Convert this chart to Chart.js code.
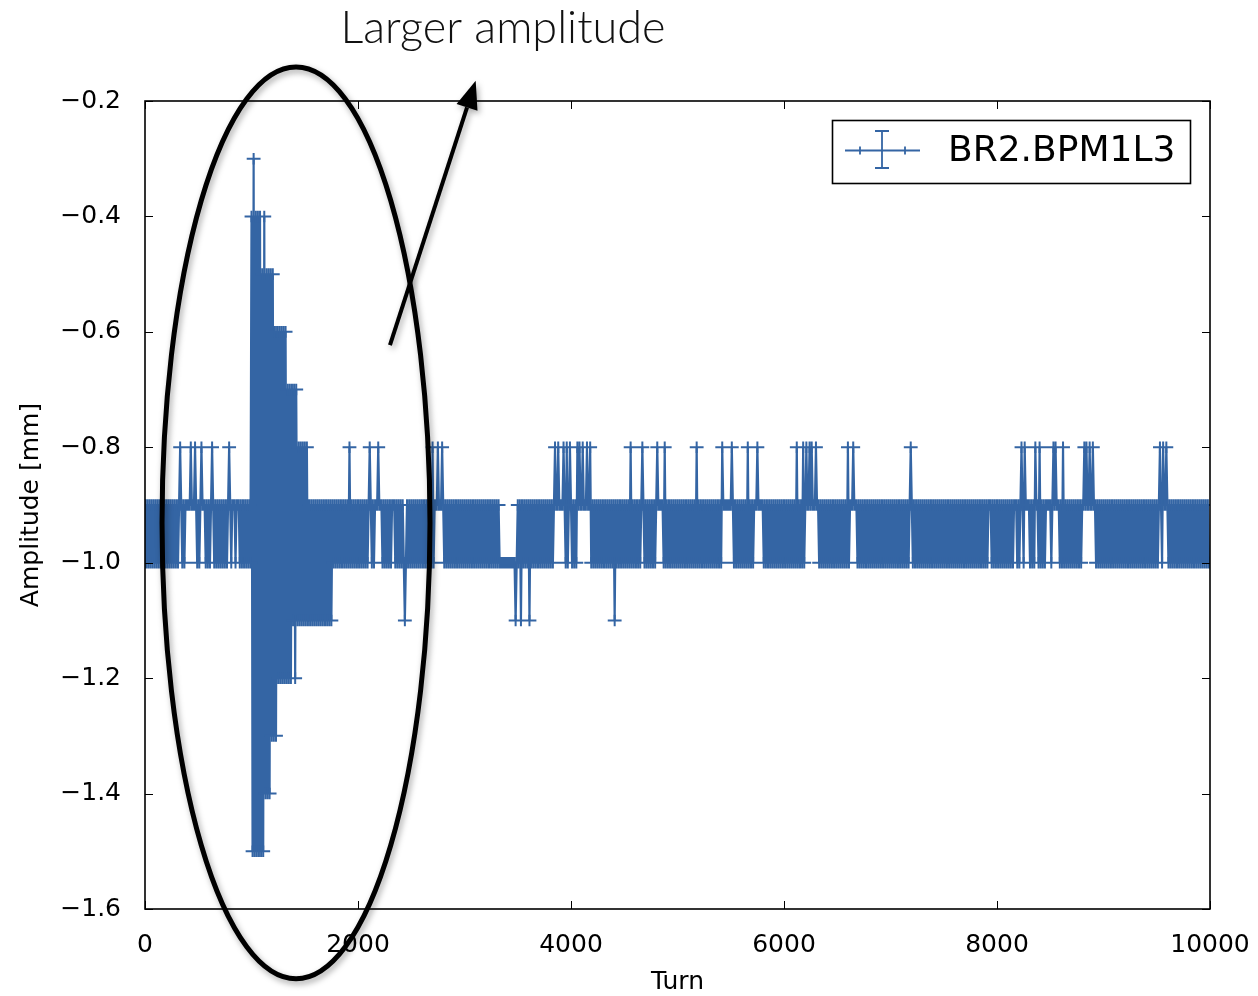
<!DOCTYPE html>
<html>
<head>
<meta charset="utf-8">
<script src="https://cdn.jsdelivr.net/npm/chart.js@4/dist/chart.umd.min.js"></script>
<style>
  html, body { margin: 0; padding: 0; background: #fff; }
  #wrap { width: 1258px; height: 996px; }
</style>
</head>
<body>
<div id="wrap"><canvas id="myChart"></canvas></div>
<script>

// BR2.BPM1L3 amplitude, one reading every 10 turns.
// one character per reading: '3'..'9' = -0.3..-0.9 mm, '0' = -1.0 mm, 'a'..'e' = -1.1..-1.5 mm
const turnStep = 10;
const levelCodes = {
  '3': -0.3, '4': -0.4, '5': -0.5, '6': -0.6, '7': -0.7, '8': -0.8, '9': -0.9,
  '0': -1.0, 'a': -1.1, 'b': -1.2, 'c': -1.3, 'd': -1.4, 'e': -1.5
};
const ampBlocks = [
  "9090909090 9090909090 9090909090 9098909099 9998999890 9098999090 9098909090 9090909098 9099909990 9090909090",
  "4e3e4e4e4e 5e4d5d5d5c 5c6c6b6b6b 6b6b7b7b7a 7b7a8a8a8a 8a8a9a9a9a 9a9a9a9a9a 9a9a9a9090 9090909090 9080909090",
  "9090909090 9890909998 9990909090 9099909090 9090a09090 9090909090 9090909090 8099989998 9090909090 9090909090",
  "9090909090 9090909090 9090909090 9090000000 00000000a0 909a909090 9a90909090 9090909090 9090989989 9998908098",
  "9090908989 9899989980 9090909090 9090909090 9a90909090 9090908090 9090909890 9090909090 9899999080 9090909090",
  "9090909090 9090909080 9090909090 9090909090 9089999999 9890909090 9090908090 9099989999 9090909090 9090909090",
  "9090909090 9080909080 9899898999 8990909090 9090909090 9090909090 8099989990 9090909090 9090909090 9090909090",
  "9090909090 9090909098 9090909090 9090909090 9090909090 9090909090 9090909090 9090909090 9090909090 9099909090",
  "9090909090 9090909990 9098908999 9090908990 8090909999 9098989990 9080909090 9090909090 9989899899 8990909090",
  "9090909090 9090909090 9090909090 9090909090 9090909090 9098908998 9090909090 9090909090 9090909090 9090909090"
];
const xErr = 65;     // turns
const yErr = 0.01;   // mm
const seriesLabel = "BR2.BPM1L3";

const xTicks = [0, 2000, 4000, 6000, 8000, 10000];
const yTicks = [-1.6, -1.4, -1.2, -1.0, -0.8, -0.6, -0.4, -0.2];

const turns = [];
const amps = [];
ampBlocks.join("").replace(/ /g, "").split("").forEach((c, i) => {
  turns.push(i * turnStep);
  amps.push(levelCodes[c]);
});
const points = turns.map((t, i) => ({ x: t, y: amps[i] }));

const blue = "#3465a4";
const font = "DejaVu Sans";

// error bars, frame with inward ticks, legend and the hand-drawn note
const overlay = {
  id: "overlay",
  afterDatasetsDraw(chart) {
    const { ctx, chartArea: a, scales: { x, y } } = chart;
    ctx.save();
    ctx.beginPath();
    ctx.rect(a.left, a.top, a.right - a.left, a.bottom - a.top);
    ctx.clip();
    ctx.strokeStyle = blue;
    ctx.lineWidth = 2;
    ctx.beginPath();
    points.forEach(p => {
      const px = x.getPixelForValue(p.x), py = y.getPixelForValue(p.y);
      ctx.moveTo(x.getPixelForValue(p.x - xErr), py);
      ctx.lineTo(x.getPixelForValue(p.x + xErr), py);
      ctx.moveTo(px, y.getPixelForValue(p.y + yErr));
      ctx.lineTo(px, y.getPixelForValue(p.y - yErr));
    });
    ctx.stroke();
    ctx.restore();
  },
  afterDraw(chart) {
    const { ctx, chartArea: a, scales: { x, y } } = chart;
    ctx.save();

    // axes frame and ticks
    ctx.strokeStyle = "#000";
    ctx.lineWidth = 1.6;
    ctx.strokeRect(a.left, a.top, a.right - a.left, a.bottom - a.top);
    ctx.lineWidth = 1;
    ctx.beginPath();
    xTicks.forEach(v => {
      const px = Math.round(x.getPixelForValue(v)) + 0.5;
      ctx.moveTo(px, a.bottom); ctx.lineTo(px, a.bottom - 8);
      ctx.moveTo(px, a.top); ctx.lineTo(px, a.top + 8);
    });
    yTicks.forEach(v => {
      const py = Math.round(y.getPixelForValue(v)) + 0.5;
      ctx.moveTo(a.left, py); ctx.lineTo(a.left + 8, py);
      ctx.moveTo(a.right, py); ctx.lineTo(a.right - 8, py);
    });
    ctx.stroke();

    // legend
    const lx = 832.5, ly = 120.5, lw = 358, lh = 63;
    ctx.fillStyle = "#fff";
    ctx.fillRect(lx, ly, lw, lh);
    ctx.strokeStyle = "#000";
    ctx.lineWidth = 1.6;
    ctx.strokeRect(lx, ly, lw, lh);
    const mx = 882, my = 150.5;
    ctx.strokeStyle = blue;
    ctx.lineWidth = 1.8;
    ctx.beginPath();
    ctx.moveTo(845, my); ctx.lineTo(920, my);
    ctx.moveTo(860, my - 4); ctx.lineTo(860, my + 4);
    ctx.moveTo(905, my - 4); ctx.lineTo(905, my + 4);
    ctx.moveTo(mx, 131); ctx.lineTo(mx, 168);
    ctx.moveTo(mx - 7, 131); ctx.lineTo(mx + 7, 131);
    ctx.moveTo(mx - 7, 168); ctx.lineTo(mx + 7, 168);
    ctx.stroke();
    ctx.fillStyle = "#000";
    ctx.font = "36px '" + font + "'";
    ctx.textAlign = "left";
    ctx.textBaseline = "middle";
    ctx.fillText(seriesLabel, 948, 152);

    // ellipse round the first turns
    const cx = x.getPixelForValue(1418), cy = y.getPixelForValue(-0.931);
    const rx = x.getPixelForValue(1418 + 1258) - cx;
    const ry = y.getPixelForValue(-0.931 - 0.79) - cy;
    ctx.save();
    ctx.shadowColor = "rgba(0,0,0,0.35)";
    ctx.shadowBlur = 6;
    ctx.shadowOffsetX = 2;
    ctx.shadowOffsetY = 3;
    ctx.strokeStyle = "#000";
    ctx.lineWidth = 5;
    ctx.beginPath();
    ctx.ellipse(cx, cy, rx, ry, 0, 0, 2 * Math.PI);
    ctx.stroke();

    // arrow
    const ax0 = x.getPixelForValue(2300), ay0 = y.getPixelForValue(-0.623);
    const ax1 = x.getPixelForValue(3105), ay1 = y.getPixelForValue(-0.165);
    const ang = Math.atan2(ay1 - ay0, ax1 - ax0);
    const headLen = 28, headW = 11;
    const bx = ax1 - headLen * Math.cos(ang), by = ay1 - headLen * Math.sin(ang);
    ctx.lineWidth = 4;
    ctx.beginPath();
    ctx.moveTo(ax0, ay0); ctx.lineTo(bx, by);
    ctx.stroke();
    ctx.fillStyle = "#000";
    ctx.beginPath();
    ctx.moveTo(ax1, ay1);
    ctx.lineTo(bx + headW * Math.sin(ang), by - headW * Math.cos(ang));
    ctx.lineTo(bx - headW * Math.sin(ang), by + headW * Math.cos(ang));
    ctx.closePath();
    ctx.fill();
    ctx.restore();

    // note
    ctx.fillStyle = "#111";
    ctx.font = "300 40px Lato";
    const w = ctx.measureText("Larger amplitude").width;
    ctx.font = "300 " + (40 * 325 / w).toFixed(1) + "px Lato";
    ctx.textAlign = "center";
    ctx.textBaseline = "middle";
    ctx.fillText("Larger amplitude", 503, 28);

    ctx.restore();
  }
};

new Chart("myChart", {
  type: "line",
  data: {
    datasets: [{
      label: seriesLabel,
      data: points,
      borderColor: blue,
      borderWidth: 2.2,
      pointRadius: 0,
      tension: 0,
      fill: false
    }]
  },
  options: {
    responsive: true,
    maintainAspectRatio: false,
    animation: false,
    events: [],
    layout: { padding: { top: 101, right: 48, left: 0, bottom: 0 } },
    plugins: { legend: { display: false }, tooltip: { enabled: false } },
    scales: {
      x: {
        type: "linear",
        min: 0,
        max: 10000,
        grid: { display: false, drawTicks: false },
        border: { display: false },
        afterBuildTicks: s => { s.ticks = xTicks.map(v => ({ value: v })); },
        afterFit: s => { s.height = 87; s.paddingLeft = 0; s.paddingRight = 0; },
        ticks: {
          padding: 21,
          color: "#000",
          font: { family: font, size: 25 },
          maxRotation: 0,
          callback: v => String(v)
        },
        title: {
          display: true,
          text: "Turn",
          color: "#000",
          font: { family: font, size: 25, lineHeight: 1.05 },
          padding: { top: 0, bottom: 0 }
        }
      },
      y: {
        type: "linear",
        min: -1.6,
        max: -0.2,
        grid: { display: false, drawTicks: false },
        border: { display: false },
        afterBuildTicks: s => { s.ticks = yTicks.map(v => ({ value: v })); },
        afterFit: s => { s.width = 145; s.paddingTop = 0; s.paddingBottom = 0; },
        ticks: {
          padding: 24,
          color: "#000",
          font: { family: font, size: 25 },
          callback: v => (v < 0 ? "\u2212" : "") + Math.abs(v).toFixed(1)
        },
        title: {
          display: true,
          text: "Amplitude [mm]",
          color: "#000",
          font: { family: font, size: 25 },
          padding: { top: 16, bottom: 0 }
        }
      }
    }
  },
  plugins: [overlay]
});
</script>
</body>
</html>
